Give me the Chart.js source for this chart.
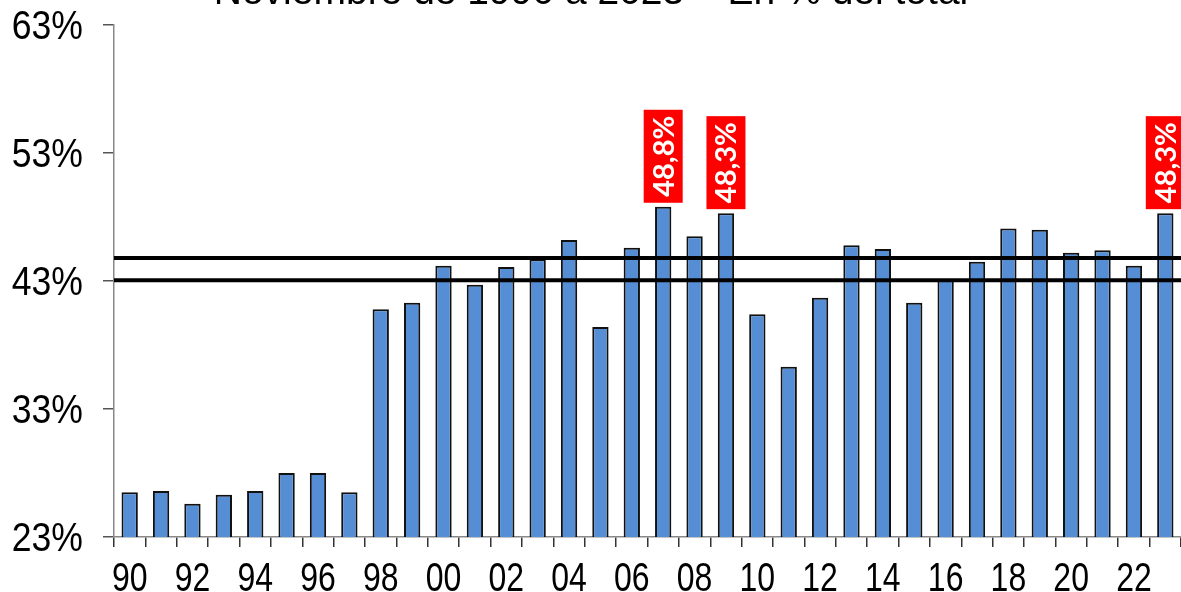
<!DOCTYPE html>
<html>
<head>
<meta charset="utf-8">
<script src="https://cdn.jsdelivr.net/npm/chart.js@4.4.0/dist/chart.umd.min.js"></script>
<style>
  html, body { margin: 0; padding: 0; background: #fff; }
  #wrap { width: 1181px; height: 592px; }
</style>
</head>
<body>
<div id="wrap"><canvas id="myChart" width="1181" height="592"></canvas></div>
<script>
let years = ["90", "91", "92", "93", "94", "95", "96", "97", "98", "99",
    "00", "01", "02", "03", "04", "05", "06", "07", "08", "09",
    "10", "11", "12", "13", "14", "15", "16", "17", "18", "19",
    "20", "21", "22", "23"],
  values = [26.5, 26.6, 25.6, 26.3, 26.6, 28.0, 28.0, 26.5, 40.8, 41.3,
    44.2, 42.7, 44.1, 44.7, 46.2, 39.4, 45.6, 48.8, 46.5, 48.3,
    40.4, 36.3, 41.7, 45.8, 45.5, 41.3, 43.1, 44.5, 47.1, 47.0,
    45.2, 45.4, 44.2, 48.3],
  refLines = [44.8, 43.05],
  labelIdx = [17, 19, 33],
  yTicks = [23, 33, 43, 53, 63],
  title = "Noviembre de 1990 a 2023 \u2013 En % del total";

const labelFont = "40px 'Liberation Sans', Arial, sans-serif";

// the original text is narrow, squeeze it horizontally
function narrowText(c, txt, x, y, align, sq) {
  c.save();
  c.translate(x, y);
  c.scale(sq, 1);
  c.textAlign = align;
  c.fillText(txt, 0, 0);
  c.restore();
}

// tick labels, title cut at the top of the picture
const textPlugin = {
  id: "texts",
  afterDraw(chart) {
    const c = chart.ctx, xs = chart.scales.x, ys = chart.scales.y;
    c.save();
    c.fillStyle = "#000";
    c.font = labelFont;
    c.textBaseline = "alphabetic";
    yTicks.forEach((v) => {
      narrowText(c, v + "%", 83, ys.getPixelForValue(v) + 14, "right", 0.89);
    });
    years.forEach((yr, i) => {
      if (i % 2 === 0) narrowText(c, yr, xs.getPixelForValue(i), 591, "center", 0.8);
    });
    c.font = "39px 'Liberation Sans', Arial, sans-serif";
    c.textAlign = "center";
    c.fillText(title, 591, 4);
    c.restore();
  }
};

// the two black reference lines
const linesPlugin = {
  id: "refLines",
  afterDatasetsDraw(chart) {
    const c = chart.ctx, y = chart.scales.y, area = chart.chartArea;
    c.save();
    c.strokeStyle = "#000";
    c.lineWidth = 4;
    refLines.forEach((v) => {
      const py = y.getPixelForValue(v);
      c.beginPath();
      c.moveTo(area.left, py);
      c.lineTo(chart.width, py);
      c.stroke();
    });
    c.restore();
  }
};

// red boxes with vertical value text
const boxPlugin = {
  id: "redBoxes",
  afterDatasetsDraw(chart) {
    const c = chart.ctx, meta = chart.getDatasetMeta(0);
    c.save();
    labelIdx.forEach((i) => {
      const bar = meta.data[i];
      const w = 39, h = 93;
      const bottom = bar.y - 4;
      c.fillStyle = "#ff0000";
      c.fillRect(bar.x - w / 2, bottom - h, w, h);
      c.translate(bar.x, bottom - h / 2);
      c.rotate(-Math.PI / 2);
      c.fillStyle = "#fff";
      c.font = "bold 29px Lato, 'Liberation Sans', sans-serif";
      c.textAlign = "center";
      c.textBaseline = "middle";
      c.fillText(values[i].toFixed(1).replace(".", ",") + "%", 0, 1);
      c.setTransform(1, 0, 0, 1, 0, 0);
    });
    c.restore();
  }
};

var ctx = document.getElementById("myChart").getContext("2d");
var myChart = new Chart(ctx, {
  type: "bar",
  data: {
    labels: years,
    datasets: [
      {
        data: values,
        backgroundColor: "#558ED5",
        borderColor: "#111",
        borderWidth: 2,
        borderSkipped: "bottom",
        categoryPercentage: 1,
        barPercentage: 0.52,
      },
    ],
  },
  options: {
    responsive: false,
    animation: false,
    layout: { padding: { top: 25, right: 0, left: 0, bottom: 0 } },
    plugins: { legend: { display: false }, tooltip: { enabled: false } },
    scales: {
      x: {
        offset: true,
        grid: {
          offset: true,
          drawOnChartArea: false,
          tickLength: 10,
          color: "#333",
          lineWidth: 1.5,
        },
        border: { color: "#888", width: 1.5 },
        ticks: { display: false, autoSkip: false },
        afterFit: (scale) => { scale.height = 55; },
      },
      y: {
        min: 23,
        max: 63,
        afterBuildTicks: (scale) => {
          scale.ticks = yTicks.map((v) => ({ value: v }));
        },
        grid: {
          drawOnChartArea: false,
          tickLength: 11,
          color: "#555",
          lineWidth: 1.5,
        },
        border: { color: "#888", width: 1.5 },
        ticks: { display: false },
        afterFit: (scale) => { scale.width = 114; },
      },
    },
  },
  plugins: [linesPlugin, boxPlugin, textPlugin],
});
</script>
</body>
</html>
